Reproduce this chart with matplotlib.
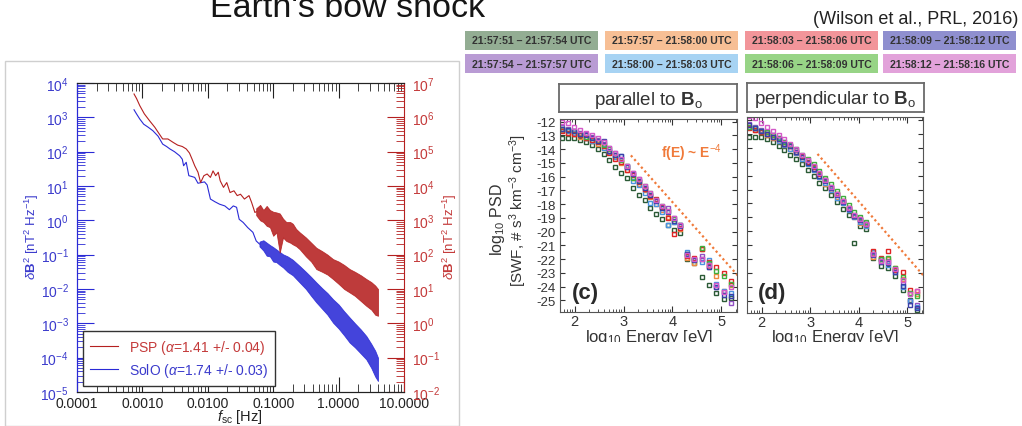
import matplotlib
matplotlib.use('Agg')
import matplotlib.pyplot as plt
import matplotlib.ticker as mticker
from matplotlib.patches import Rectangle
import numpy as np

plt.rcParams['font.family'] = ['Liberation Sans', 'DejaVu Sans']
plt.rcParams['axes.unicode_minus'] = False
plt.rcParams['mathtext.fontset'] = 'custom'
plt.rcParams['mathtext.rm'] = 'Liberation Sans'
plt.rcParams['mathtext.it'] = 'Liberation Sans:italic'
plt.rcParams['mathtext.bf'] = 'Liberation Sans:bold'

W, H = 1022, 427

# ---- left panel: field spectra (log10 values) ----
solo_logf = [-3.128, -3.09, -3.04, -2.98, -2.91, -2.84, -2.76, -2.69, -2.63, -2.58,
             -2.51, -2.43, -2.39, -2.37, -2.33, -2.29, -2.25, -2.20, -2.15, -2.10,
             -2.05, -2.01, -1.96, -1.89, -1.82, -1.74, -1.67, -1.61, -1.56, -1.52,
             -1.46, -1.39, -1.31, -1.26, -1.21]
solo_logpsd = [3.22, 3.10, 2.95, 2.80, 2.71, 2.61, 2.45, 2.22, 2.15, 2.08,
               2.00, 1.88, 1.78, 1.59, 1.69, 1.30, 1.28, 1.25, 1.08, 1.10,
               1.12, 1.03, 0.62, 0.54, 0.47, 0.42, 0.31, 0.42, 0.38, 0.03,
               -0.06, -0.21, -0.35, -0.60, -0.69]
solo_band_logf = [-1.21, -1.15, -1.10, -1.05, -1.00, -0.95, -0.90, -0.85, -0.78, -0.70,
                  -0.595, -0.50, -0.42, -0.34, -0.25, -0.17, -0.085, 0.0, 0.085, 0.169,
                  0.25, 0.34, 0.424, 0.50, 0.56, 0.602]
solo_band_hi = [-0.62, -0.58, -0.65, -0.72, -0.78, -0.85, -0.92, -0.99, -1.05, -1.15,
                -1.33, -1.50, -1.65, -1.81, -1.98, -2.12, -2.30, -2.45, -2.65, -2.83,
                -3.00, -3.18, -3.37, -3.60, -3.80, -4.00]
solo_band_lo = [-0.76, -0.88, -1.03, -1.05, -1.20, -1.22, -1.30, -1.37, -1.50, -1.60,
                -1.81, -2.00, -2.20, -2.39, -2.58, -2.75, -2.98, -3.15, -3.35, -3.56,
                -3.70, -3.88, -4.05, -4.30, -4.55, -4.68]

psp_logf = [-3.128, -3.09, -3.04, -2.97, -2.89, -2.81, -2.74, -2.69, -2.61, -2.53,
            -2.46, -2.39, -2.33, -2.28, -2.24, -2.20, -2.15, -2.11, -2.06, -2.01,
            -1.96, -1.92, -1.88, -1.84, -1.81, -1.76, -1.71, -1.66, -1.60, -1.55,
            -1.50, -1.44, -1.37, -1.33, -1.28, -1.26]
psp_logpsd = [6.68, 6.55, 6.34, 6.10, 5.90, 5.71, 5.51, 5.37, 5.37, 5.27,
              5.19, 5.15, 5.08, 4.96, 4.78, 4.59, 4.40, 4.10, 4.30, 4.35,
              4.25, 4.44, 4.30, 4.40, 4.15, 3.96, 4.10, 3.81, 3.86, 3.72,
              3.76, 3.62, 3.72, 3.52, 3.23, 3.25]
psp_band_logf = [-1.26, -1.20, -1.15, -1.10, -1.05, -1.00, -0.95, -0.90, -0.85, -0.80,
                 -0.74, -0.70, -0.65, -0.595, -0.50, -0.42, -0.34, -0.25, -0.17, -0.085,
                 0.0, 0.085, 0.169, 0.25, 0.34, 0.424, 0.50, 0.56, 0.602]
psp_band_hi = [3.35, 3.45, 3.30, 3.42, 3.30, 3.25, 3.23, 3.20, 3.05, 2.95,
               2.95, 2.90, 2.75, 2.65, 2.50, 2.35, 2.20, 2.10, 2.00, 1.87,
               1.80, 1.70, 1.58, 1.50, 1.40, 1.29, 1.20, 1.10, 1.00]
psp_band_lo = [3.15, 3.00, 2.95, 2.84, 2.80, 2.55, 2.65, 2.06, 2.50, 2.40,
               2.35, 2.30, 2.25, 2.16, 1.95, 1.80, 1.58, 1.50, 1.42, 1.29,
               1.15, 1.00, 0.90, 0.80, 0.65, 0.51, 0.40, 0.25, 0.22]

freq_ticks = [1e-4, 1e-3, 1e-2, 1e-1, 1, 10]
freq_labels = ['0.0001', '0.0010', '0.0100', '0.1000', '1.0000', '10.0000']

# ---- right panels: Wilson et al. 2016 PSD ----
intervals = ['21:57:51 – 21:57:54 UTC', '21:57:54 – 21:57:57 UTC',
             '21:57:57 – 21:58:00 UTC', '21:58:00 – 21:58:03 UTC',
             '21:58:03 – 21:58:06 UTC', '21:58:06 – 21:58:09 UTC',
             '21:58:09 – 21:58:12 UTC', '21:58:12 – 21:58:16 UTC']
box_colors = ['#93ad93', '#b99bd4', '#f7bf95', '#a7d3f3',
              '#f2959a', '#97d486', '#8f8fcf', '#e2a2da']
marker_colors = ['#2b5a36', '#9250c4', '#f08a40', '#4a93e0',
                 '#e02424', '#3fae3f', '#3a40a8', '#d458c8']

log_energy = [1.75, 1.87, 1.99, 2.11, 2.23, 2.35, 2.47, 2.59, 2.71, 2.83, 2.95,
              3.07, 3.19, 3.31, 3.43, 3.55, 3.67, 3.79, 3.91, 4.03, 4.15,
              4.30, 4.45, 4.60, 4.75, 4.90, 5.05, 5.20]

psd_par = [
    [-13.15, -13.15, -13.2, -13.3, -13.5, -13.7, -13.95, -14.35, -14.8, -15.3, -15.75,
     -16.1, -16.8, -17.3, -17.7, -18.3, -18.7, -19.1, -19.5, -19.9, -20.1,
     -22.0, -22.3, -23.3, -23.9, -24.5, -24.9, -24.8],
    [-12.4, -12.5, -12.7, -12.8, -12.9, -13.1, -13.3, -13.6, -13.9, -14.3, -14.7,
     -15.2, -15.7, -16.2, -16.8, -17.3, -17.8, -18.2, -18.3, -19.0, -19.5,
     -21.6, -22.0, -21.8, -22.6, -24.0, -24.4, -25.2],
    [-12.6, -12.8, -12.9, -13.1, -13.2, -13.4, -13.6, -13.9, -14.2, -14.6, -15.0,
     -15.5, -16.1, -16.5, -17.0, -17.5, -18.0, -18.4, -18.9, -19.3, -19.8,
     -21.9, -22.3, -21.3, -22.5, -23.2, -24.3, -23.9],
    [-12.5, -12.7, -12.8, -13.0, -13.2, -13.4, -13.5, -13.9, -14.2, -14.6, -14.5,
     -15.3, -16.3, -16.6, -17.2, -17.9, -18.0, -18.6, -19.5, -19.3, -19.5,
     -21.5, -22.0, -22.2, -22.1, -23.8, -24.3, -24.5],
    [-12.7, -12.8, -12.9, -13.0, -13.2, -13.3, -13.5, -13.8, -14.3, -14.7, -14.9,
     -15.5, -15.9, -16.4, -16.9, -17.4, -17.65, -18.2, -19.0, -20.2, -19.7,
     -21.8, -21.9, -21.3, -22.2, -22.6, -23.0, -23.6],
    [-12.5, -12.6, -12.7, -12.9, -13.1, -13.2, -13.4, -13.7, -14.0, -14.4, -14.8,
     -15.2, -16.1, -16.3, -16.7, -17.2, -17.7, -18.1, -18.5, -19.1, -19.5,
     -21.6, -22.1, -21.2, -22.3, -22.9, -23.2, -23.8],
    [-12.5, -12.6, -12.7, -12.9, -13.0, -13.2, -13.4, -13.4, -14.1, -14.4, -14.5,
     -15.3, -15.8, -16.3, -16.8, -17.3, -17.8, -18.3, -18.6, -19.2, -19.6,
     -21.6, -22.1, -22.0, -22.6, -24.0, -24.6, -24.7],
    [-12.0, -12.1, -12.4, -12.6, -12.8, -13.0, -13.2, -13.5, -13.9, -14.3, -14.7,
     -15.2, -15.7, -16.2, -16.7, -17.2, -17.7, -18.1, -18.5, -19.0, -19.5,
     -21.7, -22.0, -22.0, -22.4, -23.9, -24.4, -24.0],
]

psd_perp = [
    [-13.2, -13.2, -13.25, -13.4, -13.6, -13.9, -14.2, -14.5, -14.8, -15.2, -15.6,
     -16.0, -16.5, -16.9, -17.4, -17.9, -18.4, -18.8, -20.8, -19.6, -19.8,
     -21.9, -22.5, -22.6, -23.2, -24.2, -24.9, -25.6],
    [-12.3, -12.5, -12.7, -12.9, -13.1, -13.3, -13.6, -13.9, -14.2, -14.6, -15.0,
     -15.4, -15.8, -16.3, -16.8, -17.3, -17.8, -18.3, -18.8, -19.2, -19.5,
     -21.6, -22.0, -22.1, -22.8, -23.7, -25.0, -25.3],
    [-12.5, -12.7, -12.9, -13.1, -13.3, -13.5, -13.8, -14.1, -14.4, -14.8, -15.2,
     -15.6, -16.1, -16.6, -17.0, -17.5, -18.0, -18.5, -19.0, -19.4, -19.6,
     -21.8, -22.1, -22.0, -22.6, -23.4, -24.4, -24.5],
    [-12.5, -12.6, -12.8, -13.0, -13.2, -13.5, -13.8, -14.1, -14.4, -14.8, -15.2,
     -15.6, -16.1, -16.5, -17.0, -17.6, -18.0, -18.5, -19.0, -19.3, -19.6,
     -21.5, -22.0, -22.4, -22.9, -24.0, -25.0, -25.4],
    [-12.6, -12.7, -12.9, -13.0, -13.2, -13.4, -13.7, -13.9, -14.3, -14.6, -15.0,
     -15.4, -15.9, -16.3, -16.9, -17.3, -17.8, -18.3, -18.9, -19.1, -19.5,
     -21.4, -21.9, -21.4, -22.8, -22.9, -24.2, -24.3],
    [-12.5, -12.6, -12.8, -12.9, -13.1, -13.3, -13.6, -13.8, -14.1, -14.5, -14.8,
     -15.2, -15.7, -16.2, -16.6, -17.1, -17.6, -18.1, -18.6, -19.0, -19.3,
     -21.6, -22.0, -21.9, -22.6, -23.3, -24.4, -24.6],
    [-12.4, -12.6, -12.8, -13.0, -13.2, -13.4, -13.7, -13.9, -14.3, -14.7, -15.1,
     -15.5, -16.0, -16.4, -16.9, -17.4, -17.9, -18.4, -18.9, -19.2, -19.5,
     -21.7, -22.2, -22.3, -22.9, -23.9, -25.3, -25.5],
    [-11.7, -11.9, -12.2, -12.5, -12.8, -13.1, -13.4, -13.7, -14.1, -14.5, -14.9,
     -15.3, -15.8, -16.3, -16.8, -17.3, -17.8, -18.3, -18.8, -19.1, -19.5,
     -21.6, -22.1, -22.2, -22.7, -23.5, -24.5, -24.3],
]

powerlaw_loge = [3.15, 5.40]
powerlaw_psd = [-14.45, -23.45]


def rect(l, t, r, b):
    return [l / W, 1 - b / H, (r - l) / W, (b - t) / H]


fig = plt.figure(figsize=(W / 100, H / 100), dpi=100)

blue = '#2a2ad6'
red = '#b52020'
blue_txt = '#3b3bcc'
red_txt = '#c43a3a'

# frame round the left panel
fig.patches.append(Rectangle((5 / W, 0), 454 / W, 1 - 62 / H, transform=fig.transFigure,
                             fill=False, edgecolor='#cfcfcf', lw=1))

ax1 = fig.add_axes(rect(77, 84, 404, 393))
ax2 = ax1.twinx()

ax1.plot(10 ** np.array(solo_logf), 10 ** np.array(solo_logpsd), color=blue, lw=0.8)
ax1.fill_between(10 ** np.array(solo_band_logf), 10 ** np.array(solo_band_lo),
                 10 ** np.array(solo_band_hi), color=blue, alpha=0.88, lw=0.6)
ax2.plot(10 ** np.array(psp_logf), 10 ** np.array(psp_logpsd), color=red, lw=0.8)
ax2.fill_between(10 ** np.array(psp_band_logf), 10 ** np.array(psp_band_lo),
                 10 ** np.array(psp_band_hi), color=red, alpha=0.88, lw=0.6)

for ax in (ax1, ax2):
    ax.set_xscale('log')
    ax.set_yscale('log')
    ax.set_xlim(1e-4, 10)
ax1.set_ylim(1e-5, 1e4)
ax2.set_ylim(1e-2, 1e7)

ax1.set_xticks(freq_ticks)
ax1.set_xticklabels(freq_labels)
ax1.xaxis.set_minor_locator(mticker.LogLocator(base=10, subs=np.arange(2, 10), numticks=20))
ax1.xaxis.set_minor_formatter(mticker.NullFormatter())
ax1.tick_params(axis='x', which='both', direction='in', top=True, colors='#222222',
                labelsize=10, pad=3)
ax1.tick_params(axis='x', which='major', length=11)
ax1.tick_params(axis='x', which='minor', length=6)

for ax, col, tcol, side in ((ax1, blue, blue_txt, 'left'), (ax2, red, red_txt, 'right')):
    ax.yaxis.set_major_locator(mticker.LogLocator(base=10, numticks=12))
    ax.yaxis.set_minor_locator(mticker.LogLocator(base=10, subs=np.arange(2, 10), numticks=12))
    ax.yaxis.set_minor_formatter(mticker.NullFormatter())
    ax.tick_params(axis='y', which='both', direction='in', color=col, labelcolor=tcol,
                   labelsize=10)
    ax.tick_params(axis='y', which='major', length=12, pad=6)
    ax.tick_params(axis='y', which='minor', length=6)
    ax.spines[side].set_color(col)

ax1.spines['right'].set_visible(False)
ax2.spines['left'].set_color(blue)
ax2.spines['top'].set_color('#222222')
ax2.spines['bottom'].set_color('#222222')
ax1.spines['top'].set_color('#222222')
ax1.spines['bottom'].set_color('#222222')

h1, = ax1.plot([], [], color=red, lw=0.8)
h2, = ax1.plot([], [], color=blue, lw=0.8)
leg = ax2.legend([h1, h2], [r'PSP ($\alpha$=1.41 +/- 0.04)', r'SolO ($\alpha$=1.74 +/- 0.03)'],
                 loc='lower left', bbox_to_anchor=(0.018, 0.019), borderaxespad=0,
                 fontsize=10, fancybox=False, framealpha=1, edgecolor='#333333',
                 handlelength=2.0, handletextpad=0.8, borderpad=0.5, labelspacing=0.35)
leg.get_frame().set_linewidth(1.0)
leg.get_texts()[0].set_color(red_txt)
leg.get_texts()[1].set_color(blue_txt)

fig.text(32 / W, 1 - 237 / H, r'$\delta\mathbf{B}^2$ [nT$^2$ Hz$^{-1}$]', rotation=90,
         ha='center', va='center', color=blue_txt, fontsize=9.5)
fig.text(450 / W, 1 - 237 / H, r'$\delta\mathbf{B}^2$ [nT$^2$ Hz$^{-1}$]', rotation=90,
         ha='center', va='center', color=red_txt, fontsize=9.5)
fig.text(240 / W, 1 - 417 / H, r'$f_{\mathrm{sc}}$ [Hz]', ha='center', va='center',
         color='#222222', fontsize=10.5)

# ---- title and reference ----
fig.text(210 / W, 1 - 17 / H, "Earth's bow shock", ha='left', va='baseline',
         fontsize=24.5, color='#151515')
fig.text(1018 / W, 1 - 24 / H, '(Wilson et al., PRL, 2016)', ha='right', va='baseline',
         fontsize=13, color='#222222')

# ---- colour key boxes ----
box_x = [465, 605, 745, 883]
box_y = [32, 55]
for i, (lab, bc) in enumerate(zip(intervals, box_colors)):
    col = i // 2
    row = i % 2
    x0 = box_x[col]
    y0 = box_y[row]
    fig.patches.append(Rectangle((x0 / W, 1 - (y0 + 19) / H), 133 / W, 19 / H,
                                 transform=fig.transFigure, facecolor=bc, edgecolor='none'))
    fig.text((x0 + 66.5) / W, 1 - (y0 + 9.5) / H, lab, ha='center', va='center',
             fontsize=7.6, fontweight='bold', color='#333333')

# ---- PSD panels ----
panels = [
    (rect(560, 120, 737, 313), rect(559, 85, 737, 113), r'parallel to $\mathbf{B}_{\mathrm{o}}$',
     psd_par, '(c)', True),
    (rect(747, 118, 923, 314), rect(747, 84, 924, 113), r'perpendicular to $\mathbf{B}_{\mathrm{o}}$',
     psd_perp, '(d)', False),
]
minor_e = [n + np.log10(k) for n in range(1, 6) for k in range(2, 10)]
for pos, tpos, title, series, tag, show_y in panels:
    ax = fig.add_axes(pos)
    for vals, mc in zip(series, marker_colors):
        ax.plot(log_energy, vals, ls='none', marker='s', ms=3.0, mfc='none', mec=mc, mew=1.0)
    ax.plot(powerlaw_loge, powerlaw_psd, color='#f07a3a', lw=1.6, ls=(0, (1.0, 1.3)))
    ax.set_xlim(1.7, 5.32)
    ax.set_ylim(-25.85, -11.8)
    ax.set_xticks([2, 3, 4, 5])
    ax.set_xticks([m for m in minor_e if 1.7 < m < 5.32 and abs(m - round(m)) > 1e-6], minor=True)
    ax.set_yticks(range(-25, -11))
    ax.tick_params(axis='both', which='both', direction='in', top=True, right=True,
                   color='#333333', labelcolor='#333333', labelsize=10.5)
    ax.tick_params(axis='x', which='major', length=4, pad=1.5)
    ax.tick_params(axis='x', which='minor', length=2.5)
    ax.tick_params(axis='y', which='major', length=3.5, pad=3, labelsize=9.5)
    if not show_y:
        ax.set_yticklabels([])
    for sp in ax.spines.values():
        sp.set_color('#555555')
    ax.text(2.22, -24.4, tag, fontsize=16, fontweight='bold', color='#2a2a2a',
            ha='center', va='center')
    if show_y:
        ax.text(4.4, -14.2, r'f(E) ~ E$^{-4}$', color='#f07a3a', fontsize=10,
                fontweight='bold', ha='center', va='center')
    tax = fig.add_axes(tpos)
    tax.set_xticks([])
    tax.set_yticks([])
    for sp in tax.spines.values():
        sp.set_color('#6a6a6a')
        sp.set_linewidth(1.3)
    tax.text(0.5, 0.45, title, ha='center', va='center', fontsize=13.5, color='#333333',
             transform=tax.transAxes)
    cx = (pos[0] + pos[2] / 2)
    fig.text(cx, 1 - 338 / H, r'log$_{10}$ Energy [eV]', ha='center', va='center',
             fontsize=12, color='#333333')

fig.text(497 / W, 1 - 220 / H, r'log$_{10}$ PSD', rotation=90, ha='center', va='center',
         fontsize=11.5, color='#333333')
fig.text(518 / W, 1 - 210 / H, r'[SWF, # s$^3$ km$^{-3}$ cm$^{-3}$]', rotation=90,
         ha='center', va='center', fontsize=11, color='#333333')

# the energy labels are cut off in the source slide
fig.patches.append(Rectangle((470 / W, 0), 552 / W, 1 - 343 / H, transform=fig.transFigure,
                             facecolor='white', edgecolor='none', zorder=20))

fig.savefig('out.png', dpi=100)
